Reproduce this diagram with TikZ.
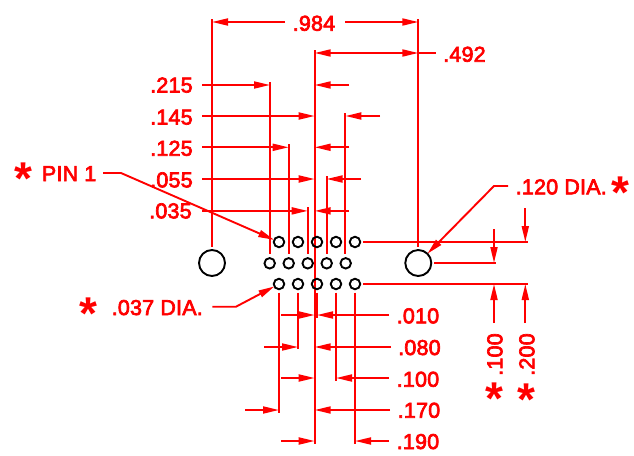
\documentclass[tikz,border=0pt]{standalone}
\usepackage{fontspec}
\setmainfont[FakeBold=3.2,LetterSpace=1]{Liberation Sans}
\newfontfamily\starfont[FakeBold=0]{Liberation Sans Bold}
\usetikzlibrary{arrows.meta}
\definecolor{dimred}{RGB}{255,0,0}
\tikzset{
  ext/.style={draw=dimred,line width=1.9pt},
  dimr/.style={ext,-{Triangle[length=16pt,width=7pt]}},
  dimb/.style={ext,{Triangle[length=16pt,width=7pt]}-{Triangle[length=16pt,width=7pt]}},
  lab/.style={text=dimred,inner sep=0pt,anchor=base west,font=\fontsize{21.5}{25}\selectfont},
  rlab/.style={lab,rotate=90},
  starmark/.style={text=dimred,inner sep=0pt,anchor=north,font=\fontsize{46}{50}\selectfont\starfont},
  pin/.style={circle,draw=black,line width=1.9pt,fill=none,inner sep=0pt,outer sep=0pt,minimum size=10.5pt},
  bighole/.style={pin,minimum size=26pt}
}
\begin{document}
\begin{tikzpicture}[x=1pt,y=-1pt]
\path[use as bounding box,fill=white] (0,0) rectangle (634,455);
\path (212,263) coordinate (hL) (418.3,263) coordinate (hR);
% extension lines
\draw[ext] (212,19) -- (212,247);
\draw[ext] (418.3,19) -- (418.3,247);
\draw[ext] (314.7,50) -- (314.7,444);
\draw[ext] (270,82) -- (270,254);
\draw[ext] (288.7,144) -- (288.7,254);
\draw[ext] (307.7,207) -- (307.7,254);
\draw[ext] (326.6,176) -- (326.6,254);
\draw[ext] (345.4,113) -- (345.4,254);
\draw[ext] (279,292.7) -- (279,413);
\draw[ext] (298,292.7) -- (298,349);
\draw[ext] (317,292.7) -- (317,318);
\draw[ext] (336,292.7) -- (336,381);
\draw[ext] (355,292.7) -- (355,444);
\draw[ext] (363,242) -- (527.7,242);
\draw[ext] (363,284) -- (527.7,284);
\draw[ext] (434,263) -- (496,263);
% horizontal dimensions, top
\draw[dimr] (285,22) -- (212,22);
\draw[dimr] (345,22) -- (418.3,22);
\draw[dimb] (314.7,53) -- (418.3,53);
\draw[ext] (418.3,53) -- (436,53);
\draw[dimr] (202,85) -- (270,85);
\draw[dimr] (349,85) -- (314.7,85);
\draw[dimr] (202,116) -- (314.7,116);
\draw[dimr] (380,116) -- (345.4,116);
\draw[dimr] (202,147.3) -- (288.7,147.3);
\draw[dimr] (349,147.3) -- (314.7,147.3);
\draw[dimr] (202,179) -- (314.7,179);
\draw[dimr] (361,179) -- (326.6,179);
\draw[dimr] (202,210.9) -- (307.7,210.9);
\draw[dimr] (349,210.9) -- (314.7,210.9);
% horizontal dimensions, bottom
\draw[dimr] (281,315) -- (314.7,315);
\draw[dimr] (389,315) -- (317,315);
\draw[dimr] (264,347) -- (298,347);
\draw[dimr] (391,347) -- (314.7,347);
\draw[dimr] (281,378) -- (314.7,378);
\draw[dimr] (389,378) -- (336,378);
\draw[dimr] (245,410) -- (279,410);
\draw[dimr] (390,410) -- (314.7,410);
\draw[dimr] (281,441) -- (314.7,441);
\draw[dimr] (389,441) -- (355,441);
% vertical dimensions
\draw[dimr] (494,229) -- (494,263);
\draw[dimr] (525.3,208) -- (525.3,242);
\draw[dimr] (494,323) -- (494,284);
\draw[dimr] (525.3,323) -- (525.3,284);
% pins and holes
\node[bighole] (holeL) at (hL) {};
\node[bighole] (holeR) at (hR) {};
\foreach \n/\x in {1/279,2/298,3/317,4/336,5/355}{
  \node[pin] (t\n) at (\x,242) {};
  \node[pin] (b\n) at (\x,284) {};
}
\foreach \n/\x in {1/269.7,2/288.7,3/307.7,4/326.7,5/345.7}{
  \node[pin] (m\n) at (\x,263.3) {};
}
% leaders
\draw[dimr] (103,173) -- (121,173) -- (t1);
\draw[dimr] (212.3,306.7) -- (236,306.7) -- (b1);
\draw[dimr] (508,186) -- (494,186) -- (holeR);
% labels
\node[lab] (l984) at (292.5,30.7) {.984};
\node[lab] (l492) at (443,61.7) {.492};
\node[lab] (l215) at (150,92.5) {.215};
\node[lab] (l145) at (150,124.5) {.145};
\node[lab] (l125) at (150,155.7) {.125};
\node[lab] (l055) at (150,187.3) {.055};
\node[lab] (l035) at (149,218.3) {.035};
\node[lab] (lpin) at (41.7,181) {PIN 1};
\node[lab] (l120) at (515.5,194.3) {.120 DIA.};
\node[lab] (l037) at (111.5,315) {.037 DIA.};
\node[lab] (l010) at (396.5,323.3) {.010};
\node[lab] (l080) at (398,355) {.080};
\node[lab] (l100) at (396.5,386.7) {.100};
\node[lab] (l170) at (397.5,417.7) {.170};
\node[lab] (l190) at (396.5,449) {.190};
\node[rlab] (r100) at (502.3,376) {.100};
\node[rlab] (r200) at (534.3,376) {.200};
% stars
\node[starmark] (s1) at (23.5,163) {*};
\node[starmark] (s2) at (88.3,297.3) {*};
\node[starmark] (s3) at (620,176.7) {*};
\node[starmark] (s4) at (494,383) {*};
\node[starmark] (s5) at (526,384) {*};
\end{tikzpicture}
\end{document}
